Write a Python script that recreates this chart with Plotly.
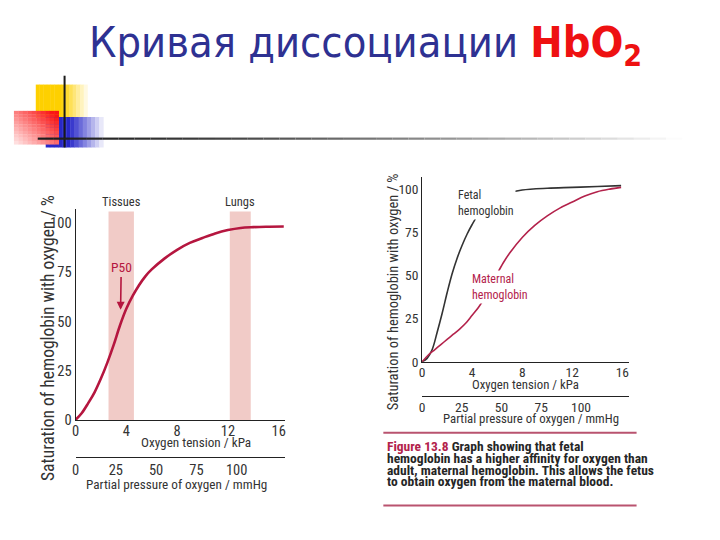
import plotly.graph_objects as go

W, H = 720, 540
def fx(p): return p / W
def fy(p): return 1 - p / H

# ---------------- data ----------------
# Left chart: standard HbO2 dissociation curve (kPa -> % saturation)
hb_kpa = [0, 0.5, 1, 1.5, 2, 2.5, 3, 3.5, 4, 4.5, 5, 5.5, 6, 7, 8, 9, 10, 11, 12, 13, 14, 15, 16.4]
hb_sat = [0, 3.5, 8.5, 14, 21, 29, 38, 48, 56.5, 63, 68.5, 73, 76.5, 82, 86.5, 90, 92.5, 94.8, 96.5, 97.6, 98, 98.2, 98.3]
tissues_band = [2.6, 4.6]
lungs_band = [12.15, 13.8]
band_top = 106

# Right chart: fetal vs maternal hemoglobin
fetal_kpa = [0, 0.4, 0.8, 1.2, 1.6, 2.0, 2.4, 2.8, 3.2, 3.6, 4.0, 4.5, 5, 5.5, 6, 7, 8, 10, 12, 14, 15.9]
fetal_sat = [0, 2, 7, 17, 28, 40, 51, 60, 67.5, 74, 79.5, 85.5, 90, 93, 95, 98, 99.5, 100.5, 101, 101.5, 102]
maternal_kpa = [0, 0.5, 1, 1.5, 2, 2.5, 3, 3.5, 4, 4.5, 5, 5.5, 6, 6.5, 7, 8, 9, 10, 11, 12, 13, 14, 15, 15.9]
maternal_sat = [0, 4, 7, 10, 13, 16, 19, 22.5, 27, 31.5, 37, 44, 51, 57.5, 63, 72, 79, 84.5, 89, 92.5, 96, 98.5, 100, 101]

kpa_ticks = [0, 4, 8, 12, 16]
mmhg_ticks = [0, 25, 50, 75, 100]
sat_ticks = [0, 25, 50, 75, 100]

title_plain = "Кривая диссоциации "
title_formula = "HbO"
caption_lines = [
    "<span style='color:#b3224b'>Figure 13.8</span> Graph showing that fetal",
    "hemoglobin has a higher affinity for oxygen than",
    "adult, maternal hemoglobin. This allows the fetus",
    "to obtain oxygen from the maternal blood.",
]

CRIMSON = "#b5163f"
CRIMSON2 = "#b3224b"
BAND = "#f1cbc7"
NARROW = "Liberation Sans Narrow, Roboto Condensed, DejaVu Sans Condensed, Roboto, sans-serif"

fig = go.Figure()
fig.add_trace(go.Scatter(x=hb_kpa, y=hb_sat, mode="lines", line=dict(color=CRIMSON, width=2.6, shape="spline"),
                         xaxis="x", yaxis="y", hoverinfo="skip"))
fig.add_trace(go.Scatter(x=[], y=[], xaxis="x2", yaxis="y", hoverinfo="skip"))
fig.add_trace(go.Scatter(x=fetal_kpa, y=fetal_sat, mode="lines", line=dict(color="#333333", width=1.6, shape="spline"),
                         xaxis="x3", yaxis="y3", hoverinfo="skip"))
fig.add_trace(go.Scatter(x=maternal_kpa, y=maternal_sat, mode="lines", line=dict(color=CRIMSON2, width=1.6, shape="spline"),
                         xaxis="x3", yaxis="y3", hoverinfo="skip"))
fig.add_trace(go.Scatter(x=[], y=[], xaxis="x4", yaxis="y3", hoverinfo="skip"))

def ax(**kw):
    base = dict(showgrid=False, zeroline=False, showline=True, linecolor="#222", linewidth=1,
                ticks="", fixedrange=True)
    base.update(kw)
    return base

LT = dict(family=NARROW, size=14.5, color="#333")
RT = dict(family=NARROW, size=13.5, color="#333")
fig.update_layout(
    width=W, height=H, margin=dict(l=0, r=0, t=0, b=0),
    paper_bgcolor="white", plot_bgcolor="rgba(0,0,0,0)", showlegend=False,
    xaxis=ax(domain=[fx(72), fx(283)], range=[0, 16.5], anchor="y", tickvals=kpa_ticks, tickfont=LT,
             ticklabelstandoff=-2),
    yaxis=ax(domain=[fy(427), fy(213)], range=[0, 107], anchor="x", tickvals=sat_ticks, tickfont=LT),
    xaxis2=ax(overlaying="x", anchor="free", position=fy(465), range=[0, 130], tickvals=mmhg_ticks,
              side="bottom", tickfont=LT, ticklabelstandoff=-1),
    xaxis3=ax(domain=[fx(421), fx(629)], range=[0, 16.5], anchor="y3", tickvals=kpa_ticks, tickfont=RT,
              ticklabelstandoff=-2),
    yaxis3=ax(domain=[fy(368), fy(180)], range=[0, 107], anchor="x3", tickvals=sat_ticks, tickfont=RT),
    xaxis4=ax(overlaying="x3", anchor="free", position=fy(402.5), range=[0, 130], tickvals=mmhg_ticks,
              side="bottom", tickfont=RT, ticklabelstandoff=-1),
)

shapes = []
for band in (tissues_band, lungs_band):
    shapes.append(dict(type="rect", xref="x", yref="y", x0=band[0], x1=band[1], y0=0, y1=band_top,
                       fillcolor=BAND, line=dict(width=0), layer="below"))

# ---- decorative slide ornament ----
def mix(c1, c2, t):
    return "rgb(%d,%d,%d)" % tuple(round(a + (b - a) * t) for a, b in zip(c1, c2))

def grad_rect(x0, x1, y0, y1, c_full, fade_from, n=14):
    white = (255, 255, 255)
    for i in range(n):
        a0 = x0 + (x1 - x0) * i / n
        a1 = x0 + (x1 - x0) * (i + 1) / n
        mid = (a0 + a1) / 2
        t = 0 if mid < fade_from else (mid - fade_from) / (x1 - fade_from)
        shapes.append(dict(type="rect", xref="paper", yref="paper", x0=fx(a0), x1=fx(a1) + 0.0005,
                           y0=fy(y1), y1=fy(y0), fillcolor=mix(c_full, white, min(t, 1) * 0.95),
                           line=dict(width=0), layer="above"))

grad_rect(32, 84, 86, 120, (254, 208, 0), 58)
grad_rect(42, 100, 119, 150, (40, 40, 200), 66)
nr = 10
for i in range(nr):
    for j in range(nr):
        a0 = 10 + 45 * i / nr; a1 = 10 + 45 * (i + 1) / nr
        b0 = 113 + 34 * j / nr; b1 = 113 + 34 * (j + 1) / nr
        u = (i + 0.5) / nr; v = 1 - (j + 0.5) / nr
        s = max(0.0, min(1.0, 0.6 * u + 0.5 * v))
        shapes.append(dict(type="rect", xref="paper", yref="paper", x0=fx(a0), x1=fx(a1) + 0.0005,
                           y0=fy(b1), y1=fy(b0) + 0.0005, fillcolor=mix((255, 235, 235), (250, 20, 20), s),
                           line=dict(width=0), layer="above"))
shapes.append(dict(type="line", xref="paper", yref="paper", x0=fx(61), x1=fx(61), y0=fy(150), y1=fy(77),
                   line=dict(color="#1a1a1a", width=2), layer="above"))
nseg = 40
for k in range(nseg):
    a0 = 34 + (683 - 34) * k / nseg
    a1 = 34 + (683 - 34) * (k + 1) / nseg
    t = k / (nseg - 1)
    g = 30 + 222 * (t ** 1.4)
    col = "rgb(%d,%d,%d)" % (g, g, g)
    shapes.append(dict(type="line", xref="paper", yref="paper", x0=fx(a0), x1=fx(a1), y0=fy(141), y1=fy(141),
                       line=dict(color=col, width=2.2), layer="above"))

for yy in (440, 514):
    shapes.append(dict(type="line", xref="paper", yref="paper", x0=fx(382), x1=fx(637), y0=fy(yy), y1=fy(yy),
                       line=dict(color="#b9536f", width=2)))
fig.update_layout(shapes=shapes)

ann = []
def txt(x, y, text, size, color="#333", family=NARROW, xanchor="center", angle=0, **kw):
    d = dict(xref="paper", yref="paper", x=fx(x), y=fy(y), text=text, showarrow=False,
             font=dict(family=family, size=size, color=color), xanchor=xanchor, yanchor="middle",
             textangle=angle)
    d.update(kw)
    ann.append(d)

# title
txt(84, 46, "<span style='color:#2e3192'>%s</span><b><span style='color:#ee1111'>%s<sub>2</sub></span></b>"
    % (title_plain, title_formula), 43, family="DejaVu Sans Condensed, DejaVu Sans, sans-serif", xanchor="left")

# left chart texts
txt(45, 344, "Saturation of hemoglobin with oxygen / %", 17.5, angle=-90)
ann.append(dict(xref="x", yref="paper", x=sum(tissues_band) / 2, y=fy(205), text="Tissues", showarrow=False,
                font=dict(family=NARROW, size=12.5, color="#333")))
ann.append(dict(xref="x", yref="paper", x=sum(lungs_band) / 2, y=fy(205), text="Lungs", showarrow=False,
                font=dict(family=NARROW, size=12.5, color="#333")))
ann.append(dict(xref="x", yref="y", x=3.55, y=56, ax=3.6, ay=77.5, axref="x", ayref="y", text="P50",
                showarrow=True, arrowhead=2, arrowsize=1, arrowwidth=1.6, arrowcolor=CRIMSON,
                font=dict(family=NARROW, size=13.5, color=CRIMSON)))
txt(193, 450.5, "Oxygen tension / kPa", 13.2)
txt(174, 493, "Partial pressure of oxygen / mmHg", 13.2)

# right chart texts
txt(392, 297, "Saturation of hemoglobin with oxygen / %", 14.5, angle=-90)
txt(455, 206, "Fetal<br>hemoglobin", 12, color="#333", xanchor="left", align="left", bgcolor="white")
txt(469, 292, "Maternal<br>hemoglobin", 12, color=CRIMSON2, xanchor="left", align="left", bgcolor="white")
txt(525, 391.5, "Oxygen tension / kPa", 12.8)
txt(531, 426, "Partial pressure of oxygen / mmHg", 12.8)
for i, line in enumerate(caption_lines):
    txt(384, 453.5 + 12 * i, "<b>%s</b>" % line, 13.5, color="#262626", xanchor="left")

fig.update_layout(annotations=ann)
fig.write_html("out.html")
